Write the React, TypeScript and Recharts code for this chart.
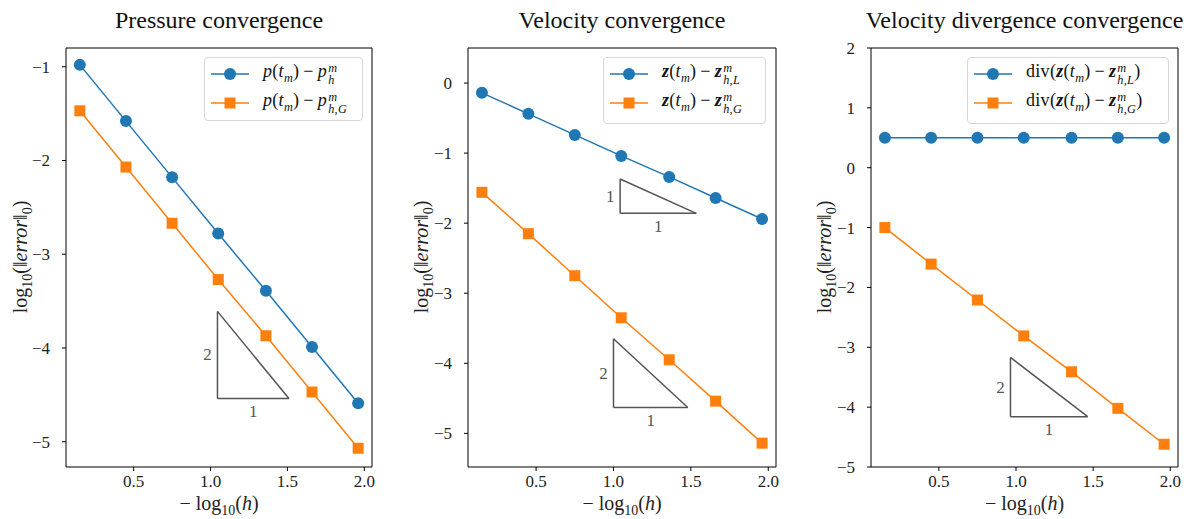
import React from "react";
import { LineChart, Line, XAxis, YAxis, ReferenceLine, ReferenceDot, Legend, Label } from "recharts";

const BLUE = "#1f77b4";
const ORANGE = "#ff7f0e";
const GRAY = "#555555";
const FONT = '"Liberation Serif", "Times New Roman", serif';

// -log10(h)
const h = [0.15, 0.45, 0.75, 1.05, 1.36, 1.66, 1.96];

const pressureP = [-0.98, -1.58, -2.18, -2.78, -3.39, -3.99, -4.59];
const pressureG = [-1.47, -2.07, -2.67, -3.27, -3.87, -4.47, -5.07];
const velocityL = [-0.14, -0.44, -0.74, -1.04, -1.34, -1.64, -1.94];
const velocityG = [-1.56, -2.15, -2.75, -3.35, -3.95, -4.54, -5.14];
const divL = [0.5, 0.5, 0.5, 0.5, 0.5, 0.5, 0.5];
const divG = [-1.0, -1.61, -2.21, -2.81, -3.41, -4.02, -4.62];

const xTicks = [0.5, 1.0, 1.5, 2.0];
const pressureTicks = [-5, -4, -3, -2, -1];
const velocityTicks = [-5, -4, -3, -2, -1, 0];
const divTicks = [-5, -4, -3, -2, -1, 0, 1, 2];

// slope triangles (data units): x0..x1 along the bottom, y0 bottom, y1 top
const pressureTri = [{ x0: 1.045, x1: 1.51, y0: -4.54, y1: -3.61, rise: "2", run: "1" }];
const velocityTri = [
  { x0: 1.043, x1: 1.535, y0: -1.86, y1: -1.37, rise: "1", run: "1" },
  { x0: 1.0, x1: 1.48, y0: -4.63, y1: -3.65, rise: "2", run: "1" },
];
const divTri = [{ x0: 0.964, x1: 1.465, y0: -4.16, y1: -3.17, rise: "2", run: "1" }];

const X_DOMAIN: [number, number] = [0.06, 2.05];

const makeRows = (a: number[], b: number[]) => h.map((x, i) => ({ x, a: a[i], b: b[i] }));

const fmtY = (v: number) => (v < 0 ? `\u2212${-v}` : `${v}`);

const XTick = (p: any) => (
  <text x={p.x} y={p.y + 13} textAnchor="middle" fontSize={17} fill="#222" fontFamily={FONT}>
    {Number(p.payload.value).toFixed(1)}
  </text>
);
const YTick = (p: any) => (
  <text x={p.x} y={p.y + 6} textAnchor="end" fontSize={17} fill="#222" fontFamily={FONT}>
    {fmtY(p.payload.value)}
  </text>
);

const SubSup = ({ sup, sub }: { sup: React.ReactNode; sub: React.ReactNode }) => (
  <span
    style={{
      display: "inline-flex",
      flexDirection: "column",
      fontSize: "0.68em",
      lineHeight: 1,
      verticalAlign: "0.42em",
      marginLeft: 1,
    }}
  >
    <i>{sup}</i>
    <i>{sub}</i>
  </span>
);

const Z = () => <b><i>z</i></b>;
const Tm = () => (
  <>
    (<i>t</i>
    <sub style={{ fontSize: "0.68em" }}><i>m</i></sub>)
  </>
);
const Minus = () => <span style={{ margin: "0 4px" }}>−</span>;

const legendP = [
  <><i>p</i><Tm /><Minus /><i>p</i><SubSup sup="m" sub="h" /></>,
  <><i>p</i><Tm /><Minus /><i>p</i><SubSup sup="m" sub="h,G" /></>,
];
const legendV = [
  <><Z /><Tm /><Minus /><Z /><SubSup sup="m" sub="h,L" /></>,
  <><Z /><Tm /><Minus /><Z /><SubSup sup="m" sub="h,G" /></>,
];
const legendD = [
  <>div(<Z /><Tm /><Minus /><Z /><SubSup sup="m" sub="h,L" />)</>,
  <>div(<Z /><Tm /><Minus /><Z /><SubSup sup="m" sub="h,G" />)</>,
];

const LegendBox = ({ labels, w, hgt }: { labels: React.ReactNode[]; w: number; hgt: number }) => (
  <div
    style={{
      width: w,
      height: hgt,
      boxSizing: "border-box",
      border: "1px solid #d6d6d6",
      borderRadius: 4,
      background: "rgba(255,255,255,0.85)",
      paddingTop: 1,
      fontFamily: FONT,
      color: "#111",
    }}
  >
    {labels.map((lab, i) => (
      <div key={i} style={{ display: "flex", alignItems: "center", height: 29 }}>
        <svg width={44} height={16} style={{ marginLeft: 6, flex: "none" }}>
          <line x1={0} y1={8} x2={38} y2={8} stroke={i === 0 ? BLUE : ORANGE} strokeWidth={1.5} />
          {i === 0 ? (
            <circle cx={19} cy={8} r={6} fill={BLUE} />
          ) : (
            <rect x={13.5} y={2.5} width={11} height={11} fill={ORANGE} />
          )}
        </svg>
        <span style={{ marginLeft: 8, fontSize: 18, letterSpacing: 0.3, whiteSpace: "nowrap" }}>{lab}</span>
      </div>
    ))}
  </div>
);

type Layout = {
  width: number;
  left: number;
  right: number;
  yLabelX: number;
  legend: { x: number; y: number; w: number; h: number };
};

type Tri = { x0: number; x1: number; y0: number; y1: number; rise: string; run: string };

const triText = (txt: string, dx: number, dy: number) => (p: any) => (
  <text
    x={p.cx + dx}
    y={p.cy + dy}
    textAnchor="middle"
    dominantBaseline="central"
    fontSize={17}
    fill={GRAY}
    fontFamily={FONT}
  >
    {txt}
  </text>
);

function Panel({
  title,
  rows,
  yDomain,
  yTicks,
  tris,
  labels,
  lay,
}: {
  title: string;
  rows: { x: number; a: number; b: number }[];
  yDomain: [number, number];
  yTicks: number[];
  tris: Tri[];
  labels: React.ReactNode[];
  lay: Layout;
}) {
  const H = 519;
  const plotLeft = lay.left + 50;
  const plotRight = lay.width - lay.right;
  const cx = (plotLeft + plotRight) / 2;
  return (
    <LineChart
      width={lay.width}
      height={H}
      data={rows}
      margin={{ top: 48, right: lay.right, bottom: 22, left: lay.left }}
      style={{ fontFamily: FONT }}
    >
      <XAxis
        dataKey="x"
        type="number"
        domain={X_DOMAIN}
        ticks={xTicks}
        allowDataOverflow
        height={30}
        tickSize={4}
        tickMargin={3}
        stroke="#000"
        tick={XTick}
      >
        <Label
          content={() => (
            <text x={cx} y={510} textAnchor="middle" fontSize={20} fill="#222" fontFamily={FONT}>
              − log
              <tspan dy={5} fontSize={14}>10</tspan>
              <tspan dy={-5}>(</tspan>
              <tspan fontStyle="italic">h</tspan>)
            </text>
          )}
        />
        <Label
          content={() => (
            <text x={cx} y={28} textAnchor="middle" fontSize={24} fill="#111" fontFamily={FONT}>
              {title}
            </text>
          )}
        />
      </XAxis>
      <YAxis
        type="number"
        domain={yDomain}
        ticks={yTicks}
        allowDataOverflow
        width={50}
        tickSize={4}
        tickMargin={12}
        stroke="#000"
        tick={YTick}
      >
        <Label
          content={() => (
            <text
              transform={`translate(${lay.yLabelX},257) rotate(-90)`}
              textAnchor="middle"
              fontSize={20}
              fill="#222"
              fontFamily={FONT}
            >
              log
              <tspan dy={5} fontSize={14}>10</tspan>
              <tspan dy={-5}>(‖</tspan>
              <tspan fontStyle="italic">error</tspan>
              <tspan>‖</tspan>
              <tspan dy={5} fontSize={14}>0</tspan>
              <tspan dy={-5}>)</tspan>
            </text>
          )}
        />
      </YAxis>

      {/* top and right spines */}
      <ReferenceLine y={yDomain[1]} stroke="#000" strokeWidth={1} />
      <ReferenceLine x={X_DOMAIN[1]} stroke="#000" strokeWidth={1} />

      {tris.map((t, i) => [
        <ReferenceLine key={`v${i}`} segment={[{ x: t.x0, y: t.y0 }, { x: t.x0, y: t.y1 }]} stroke={GRAY} strokeWidth={1.5} />,
        <ReferenceLine key={`h${i}`} segment={[{ x: t.x0, y: t.y0 }, { x: t.x1, y: t.y0 }]} stroke={GRAY} strokeWidth={1.5} />,
        <ReferenceLine key={`d${i}`} segment={[{ x: t.x0, y: t.y1 }, { x: t.x1, y: t.y0 }]} stroke={GRAY} strokeWidth={1.5} />,
        <ReferenceDot key={`r${i}`} x={t.x0} y={(t.y0 + t.y1) / 2} r={0} shape={triText(t.rise, -10, 0)} />,
        <ReferenceDot key={`u${i}`} x={(t.x0 + t.x1) / 2} y={t.y0} r={0} shape={triText(t.run, 0, 13)} />,
      ])}

      <Line
        dataKey="a"
        stroke={BLUE}
        strokeWidth={1.5}
        dot={{ r: 6, fill: BLUE, stroke: BLUE, strokeWidth: 0 }}
        activeDot={false}
        isAnimationActive={false}
      />
      <Line
        dataKey="b"
        stroke={ORANGE}
        strokeWidth={1.5}
        dot={(p: any) => <rect key={p.index} x={p.cx - 5.5} y={p.cy - 5.5} width={11} height={11} fill={ORANGE} />}
        activeDot={false}
        isAnimationActive={false}
      />
      <Legend
        layout="vertical"
        align="center"
        verticalAlign="middle"
        wrapperStyle={{ left: lay.legend.x, top: lay.legend.y, width: lay.legend.w }}
        content={() => <LegendBox labels={labels} w={lay.legend.w} hgt={lay.legend.h} />}
      />
    </LineChart>
  );
}

export default function App() {
  return (
    <div style={{ position: "absolute", left: 0, top: 0, width: 1192, height: 519, background: "#fff", fontFamily: FONT }}>
      <div style={{ position: "absolute", left: 0, top: 0 }}>
        <Panel
          title="Pressure convergence"
          rows={makeRows(pressureP, pressureG)}
          yDomain={[-5.27, -0.8]}
          yTicks={pressureTicks}
          tris={pressureTri}
          labels={legendP}
          lay={{ width: 400, left: 16, right: 28, yLabelX: 27, legend: { x: 204, y: 57, w: 159, h: 64 } }}
        />
      </div>
      <div style={{ position: "absolute", left: 400, top: 0 }}>
        <Panel
          title="Velocity convergence"
          rows={makeRows(velocityL, velocityG)}
          yDomain={[-5.48, 0.5]}
          yTicks={velocityTicks}
          tris={velocityTri}
          labels={legendV}
          lay={{ width: 400, left: 18, right: 24, yLabelX: 28, legend: { x: 203, y: 57, w: 163, h: 67 } }}
        />
      </div>
      <div style={{ position: "absolute", left: 800, top: 0 }}>
        <Panel
          title="Velocity divergence convergence"
          rows={makeRows(divL, divG)}
          yDomain={[-5, 2]}
          yTicks={divTicks}
          tris={divTri}
          labels={legendD}
          lay={{ width: 392, left: 21, right: 14, yLabelX: 31, legend: { x: 167, y: 57, w: 202, h: 67 } }}
        />
      </div>
    </div>
  );
}
